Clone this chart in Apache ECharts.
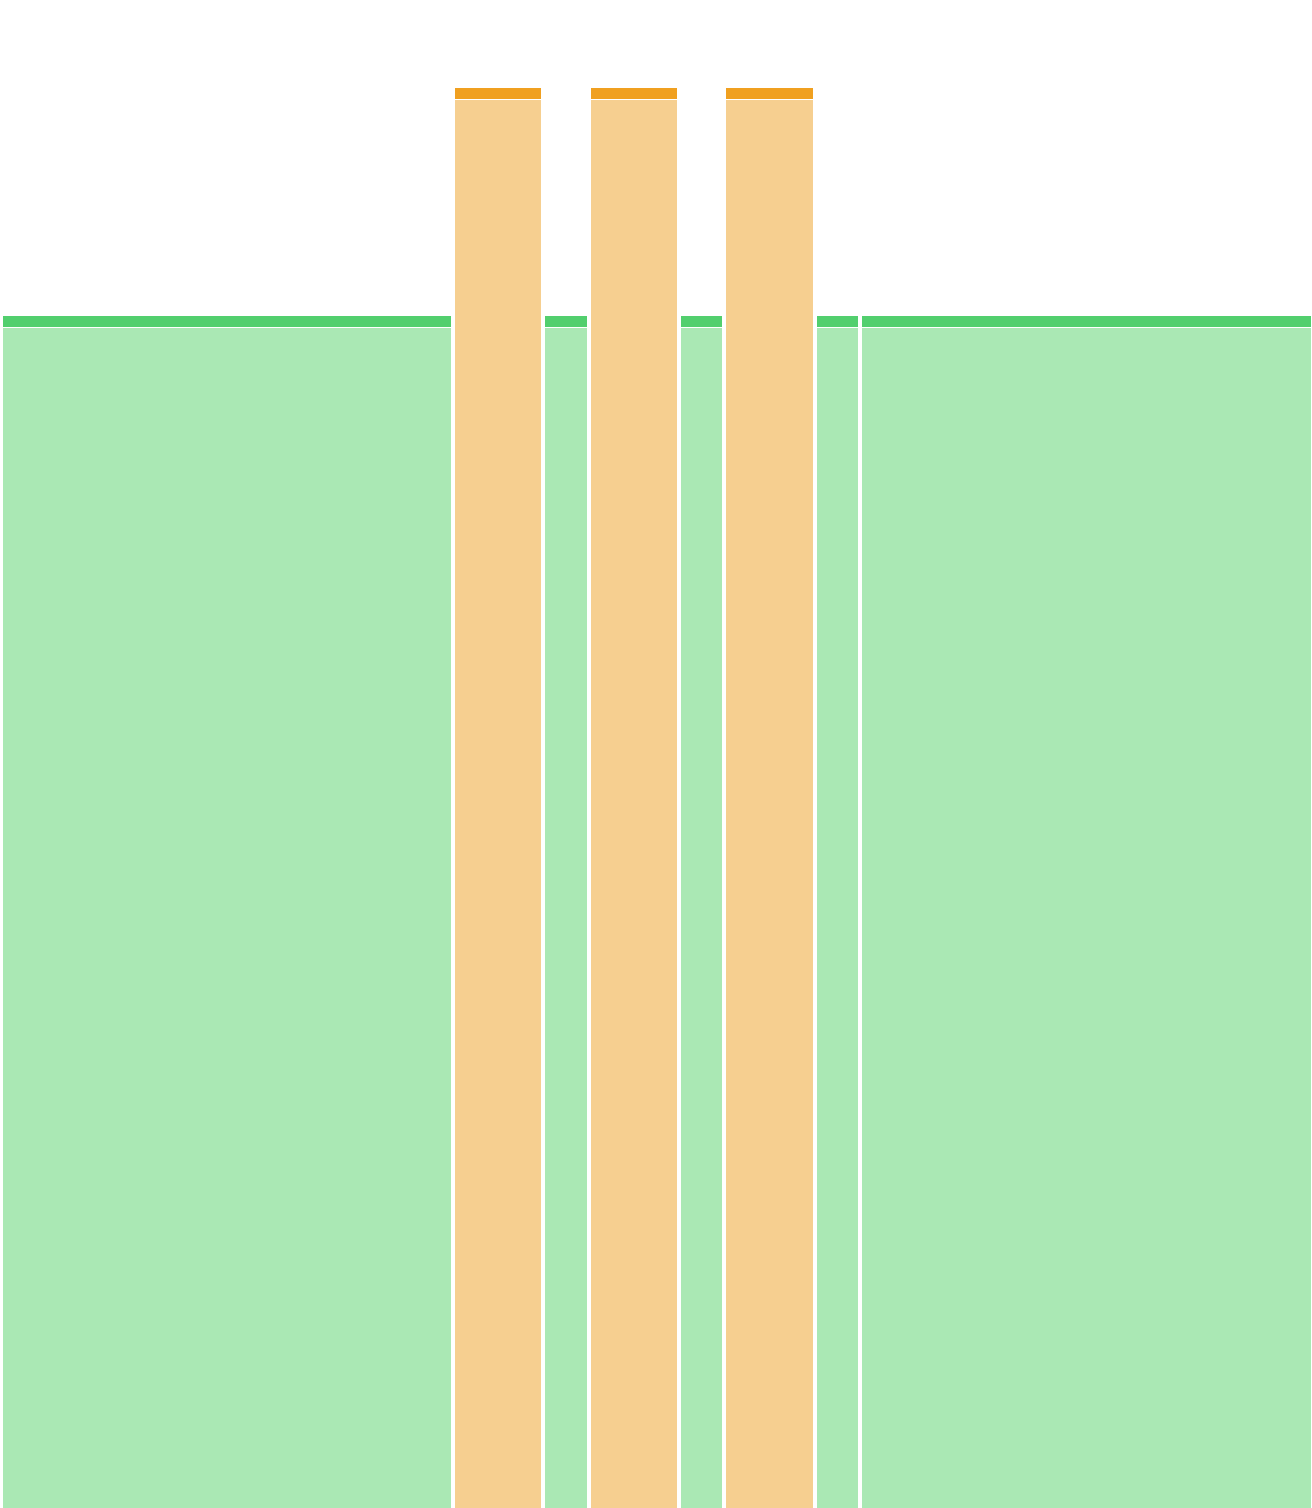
<!DOCTYPE html>
<html>
<head>
<meta charset="utf-8">
<style>html,body{margin:0;padding:0;background:#fff;}#chart{width:1312px;height:1508px;}</style>
<script src="https://cdn.jsdelivr.net/npm/echarts@6/dist/echarts.min.js"></script>
</head>
<body>
<div id="chart"></div>
<script>
// Segment widths (in units along x), bar values and kinds
var widths = [10, 2, 1, 2, 1, 2, 1, 10];
var values = [79.05, 94.15, 79.05, 94.15, 79.05, 94.15, 79.05, 79.05];
var kinds  = ['green', 'orange', 'green', 'orange', 'green', 'orange', 'green', 'green'];

var palette = {
  green:  { cap: '#52CF6E', body: '#AAE8B4' },
  orange: { cap: '#F0A020', body: '#F6CF90' }
};

var data = [];
var acc = 0;
for (var i = 0; i < widths.length; i++) {
  data.push([acc, acc + widths[i], values[i], i]);
  acc += widths[i];
}

var chart = echarts.init(document.getElementById('chart'));
chart.setOption({
  animation: false,
  grid: { left: 0, right: 0, top: 0, bottom: 0 },
  xAxis: { type: 'value', min: 0, max: acc, show: false },
  yAxis: { type: 'value', min: 0, max: 100, show: false },
  series: [{
    type: 'custom',
    data: data,
    encode: { x: [0, 1], y: 2 },
    renderItem: function (params, api) {
      var s = api.coord([api.value(0), 0]);
      var e = api.coord([api.value(1), 0]);
      var t = api.coord([0, api.value(2)]);
      var k = kinds[api.value(3)];
      var x = Math.round(s[0] + 2.5);
      var x2 = Math.round(e[0] - 1.5);
      var w = x2 - x;
      var top = Math.round(t[1]);
      var base = s[1];
      var capH = 11;
      var gap = 1;
      return {
        type: 'group',
        children: [
          { type: 'rect', shape: { x: x, y: top, width: w, height: capH }, style: { fill: palette[k].cap } },
          { type: 'rect', shape: { x: x, y: top + capH + gap, width: w, height: base - top - capH - gap }, style: { fill: palette[k].body } }
        ]
      };
    }
  }]
});
</script>
</body>
</html>
